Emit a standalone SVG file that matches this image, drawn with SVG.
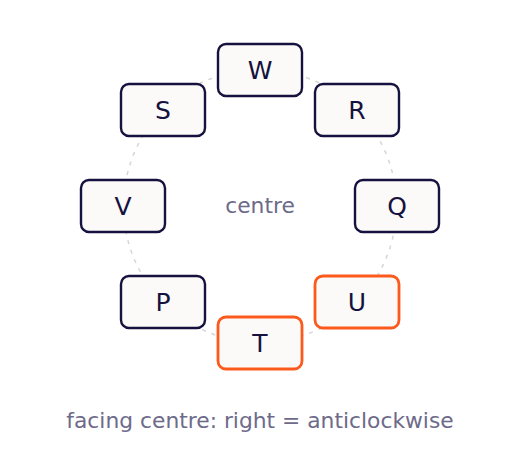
<svg xmlns="http://www.w3.org/2000/svg" width="520" height="451" viewBox="0 0 520 451">
<style>
.ring{fill:none;stroke:#d6d6d6;stroke-width:1.5;stroke-dasharray:4 6}
.node rect{fill:#fcfaf8;stroke:#15123f;stroke-width:2.4}
.node.hi rect{stroke:#fb5a1c;stroke-width:2.8}
.node text{font-family:"DejaVu Sans",sans-serif;font-size:25px;fill:#15123f;text-anchor:middle;dominant-baseline:central}
.lbl{font-family:"DejaVu Sans",sans-serif;fill:#6e6b8a;text-anchor:middle;font-size:21.8px}
</style>
<rect width="520" height="451" fill="#ffffff"/>
<g id="connectors">
<circle class="ring" cx="260" cy="206" r="136.5"/>
</g>
<g id="node-W" class="node"><rect x="218" y="44" width="84" height="52" rx="8"/><text x="260" y="70">W</text></g>
<g id="node-R" class="node"><rect x="315" y="84" width="84" height="52" rx="8"/><text x="357" y="110">R</text></g>
<g id="node-Q" class="node"><rect x="355" y="180" width="84" height="52" rx="8"/><text x="397" y="206">Q</text></g>
<g id="node-U" class="node hi"><rect x="315" y="276" width="84" height="52" rx="8"/><text x="357" y="302">U</text></g>
<g id="node-T" class="node hi"><rect x="218" y="317" width="84" height="52" rx="8"/><text x="260" y="343">T</text></g>
<g id="node-P" class="node"><rect x="121" y="276" width="84" height="52" rx="8"/><text x="163" y="302">P</text></g>
<g id="node-V" class="node"><rect x="81" y="180" width="84" height="52" rx="8"/><text x="123" y="206">V</text></g>
<g id="node-S" class="node"><rect x="121" y="84" width="84" height="52" rx="8"/><text x="163" y="110">S</text></g>
<text class="lbl" x="260" y="213">centre</text>
<text class="lbl" x="260" y="428">facing centre: right = anticlockwise</text>
</svg>
